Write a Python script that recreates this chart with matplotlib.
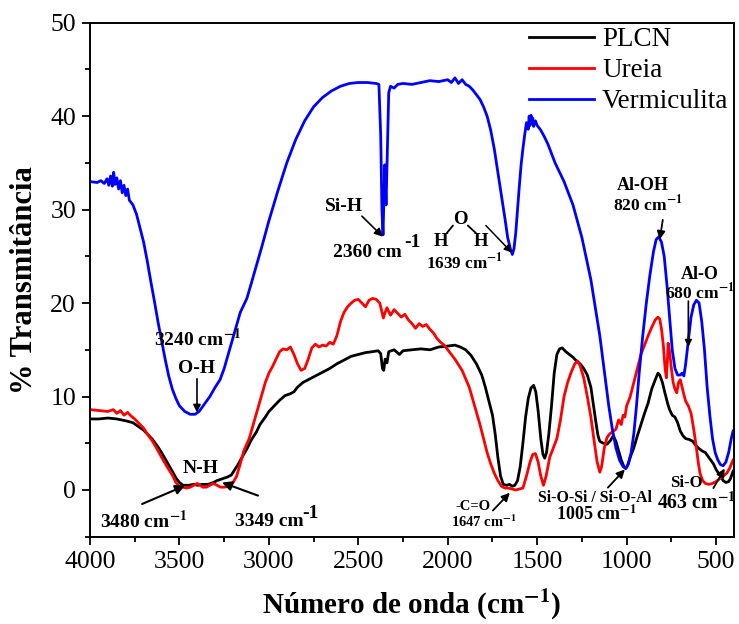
import matplotlib
matplotlib.use('Agg')
import matplotlib.pyplot as plt
from matplotlib.ticker import MultipleLocator

plt.rcParams['font.family'] = ['Liberation Serif', 'DejaVu Serif']
plt.rcParams['mathtext.fontset'] = 'stix'

# PLCN (black)
plcn_x = [4000, 3950, 3900, 3850, 3800, 3760, 3730, 3700, 3680, 3650, 3620, 3600, 3570, 3540,
          3520, 3500, 3480, 3450, 3420, 3400, 3370, 3340, 3310, 3290, 3260, 3230, 3210, 3190,
          3170, 3150, 3120, 3100, 3070, 3050, 3020, 3000, 2970, 2940, 2910, 2880, 2860, 2840,
          2810, 2780, 2750, 2720, 2700, 2660, 2620, 2580, 2540, 2500, 2460, 2420, 2390, 2375,
          2365, 2358, 2350, 2340, 2330, 2300, 2270, 2250, 2200, 2150, 2100, 2050, 2000, 1960,
          1930, 1900, 1870, 1840, 1810, 1790, 1770, 1750, 1735, 1720, 1705, 1690, 1670, 1655,
          1640, 1625, 1610, 1595, 1580, 1565, 1550, 1535, 1520, 1508, 1495, 1480, 1468, 1458,
          1448, 1435, 1420, 1405, 1390, 1375, 1360, 1340, 1320, 1300, 1280, 1260, 1240, 1220,
          1200, 1185, 1170, 1160, 1150, 1130, 1110, 1090, 1075, 1060, 1045, 1030, 1015, 1005,
          995, 980, 960, 940, 920, 900, 880, 860, 840, 825, 815, 800, 785, 770, 760, 745, 730,
          715, 700, 685, 670, 650, 630, 615, 600, 580, 560, 545, 530, 515, 500, 490, 475, 460,
          445, 430, 420, 405]
plcn_y = [7.6, 7.6, 7.7, 7.6, 7.4, 7.2, 6.8, 6.4, 6.0, 5.4, 4.6, 4.0, 3.0, 2.0,
          1.3, 0.8, 0.5, 0.5, 0.6, 0.5, 0.6, 0.6, 0.8, 1.0, 1.2, 1.4, 1.6, 2.2,
          2.8, 3.5, 4.5, 5.3, 6.2, 7.0, 7.8, 8.4, 9.0, 9.6, 10.1, 10.3, 10.5, 11.0,
          11.5, 11.8, 12.1, 12.4, 12.6, 13.0, 13.5, 13.9, 14.3, 14.5, 14.7, 14.8, 14.9, 14.6,
          13.0, 12.8, 14.0, 13.6, 14.8, 15.0, 14.5, 14.9, 15.0, 15.1, 15.0, 15.3, 15.4, 15.5,
          15.3, 15.0, 14.4, 13.5, 12.3, 11.0, 9.5, 8.0, 6.0, 3.5, 1.5, 0.6, 0.5, 0.6,
          0.4, 0.5, 1.0, 2.5, 5.0, 7.8, 9.8, 10.9, 11.2, 10.5, 8.5, 5.5, 3.8, 3.4,
          4.0, 6.0, 9.0, 12.5, 14.5, 15.1, 15.2, 14.8, 14.5, 14.2, 13.8, 13.5, 13.0, 12.3,
          11.0, 9.0, 7.0, 5.8, 5.2, 5.0, 4.9, 5.3, 5.8, 5.2, 4.2, 3.2, 2.5, 2.3,
          2.6, 3.5, 4.5, 5.8, 7.0, 8.2, 9.3, 10.8, 11.8, 12.5, 12.3, 11.5, 10.3, 9.2, 8.6, 8.0, 7.8,
          7.2, 6.3, 5.8, 5.5, 5.4, 5.2, 4.8, 4.5, 4.2, 4.0, 3.6, 3.2, 2.8, 2.2, 1.9, 1.5, 1.0,
          0.8, 0.9, 1.2, 2.0]

# Ureia (red)
ureia_x = [4000, 3950, 3900, 3870, 3850, 3830, 3810, 3790, 3770, 3750, 3720, 3700, 3680, 3650,
           3620, 3600, 3570, 3540, 3520, 3500, 3480, 3460, 3440, 3420, 3400, 3385, 3370, 3350,
           3330, 3310, 3290, 3270, 3250, 3220, 3200, 3180, 3160, 3140, 3110, 3080, 3050, 3020,
           3000, 2980, 2960, 2940, 2920, 2900, 2880, 2860, 2840, 2820, 2800, 2780, 2760, 2740,
           2720, 2700, 2680, 2660, 2640, 2620, 2600, 2580, 2560, 2540, 2520, 2500, 2480, 2460,
           2440, 2420, 2400, 2380, 2370, 2360, 2350, 2340, 2320, 2300, 2280, 2260, 2240, 2220,
           2200, 2180, 2160, 2140, 2120, 2100, 2080, 2060, 2040, 2020, 2000, 1960, 1920, 1880,
           1850, 1820, 1800, 1780, 1760, 1740, 1720, 1700, 1680, 1660, 1640, 1620, 1600, 1580,
           1560, 1540, 1525, 1510, 1495, 1480, 1465, 1450, 1430, 1410, 1390, 1370, 1350, 1330,
           1310, 1290, 1275, 1260, 1240, 1220, 1200, 1180, 1165, 1150, 1140, 1125, 1110, 1095,
           1080, 1060, 1045, 1030, 1020, 1010, 1000, 980, 960, 940, 920, 900, 880, 860, 840,
           825, 815, 805, 795, 785, 778, 772, 768, 760, 750, 740, 730, 720, 710, 700, 690, 680,
           670, 655, 640, 625, 610, 600, 590, 575, 560, 540, 520, 500, 480, 460, 440, 425, 405]
ureia_y = [8.6, 8.5, 8.4, 8.6, 8.2, 8.5, 8.0, 8.3, 7.9, 7.6, 7.0, 6.6, 6.0, 5.2,
           4.2, 3.5, 2.5, 1.6, 0.8, 0.4, 0.3, 0.2, 0.3, 0.5, 0.7, 0.5, 0.3, 0.3,
           0.5, 0.7, 0.5, 0.3, 0.3, 0.4, 0.8, 1.5, 2.8, 4.2, 5.5, 7.5, 9.5, 11.5,
           12.5, 13.2, 14.0, 14.8, 15.1, 15.0, 15.3, 14.5, 13.5, 12.8, 13.0, 14.0, 15.2, 15.6,
           15.3, 15.5, 15.4, 15.8, 15.6, 16.5, 18.0, 19.0, 19.6, 20.0, 20.3, 20.4, 20.0, 19.6,
           20.3, 20.5, 20.4, 20.0, 19.2, 18.4, 19.0, 19.5, 18.7, 19.3, 18.9, 18.5, 18.8, 18.2,
           17.8, 17.3, 17.8, 17.5, 17.7, 17.2, 16.8, 16.2, 15.8, 15.5, 15.0, 14.0, 12.8, 11.0,
           9.0, 7.0, 5.5, 4.0, 2.8, 1.8, 1.0, 0.4, 0.2, 0.2, 0.1, 0.0, 0.1, 0.2,
           1.5, 3.0, 3.8, 3.9, 3.0, 1.5, 0.5, 1.5, 3.5, 4.5, 5.5, 7.5, 10.0, 11.5,
           12.6, 13.5, 13.8, 13.3, 12.0, 10.0, 7.8, 5.0, 3.0, 1.9, 2.5, 4.5, 5.6, 6.0,
           6.2, 6.5, 7.5, 7.0, 8.0, 7.8, 9.0, 10.0, 11.5, 13.0, 14.5, 15.5, 16.5, 17.4, 18.2,
           18.5, 18.3, 17.2, 15.5, 13.0, 12.0, 14.0, 15.7, 14.8, 13.0, 11.5, 10.8, 10.4, 11.5, 11.8, 11.0, 10.2,
           9.5, 9.0, 8.2, 6.5, 4.5, 3.0, 1.8, 1.0, 0.7, 0.6, 0.7, 0.9, 1.2, 1.5, 1.8, 2.3, 3.2]

# Vermiculita (blue)
verm_x = [4000, 3960, 3940, 3920, 3905, 3895, 3885, 3875, 3868, 3860, 3850, 3840, 3830, 3820,
          3810, 3800, 3790, 3780, 3760, 3740, 3720, 3700, 3680, 3660, 3640, 3620, 3600, 3580,
          3560, 3540, 3520, 3500, 3470, 3440, 3413, 3390, 3360, 3330, 3300, 3273, 3250, 3220,
          3190, 3160, 3123, 3100, 3070, 3040, 3000, 2950, 2900, 2850, 2800, 2750, 2700, 2650,
          2600, 2550, 2500, 2450, 2400, 2385, 2375, 2368, 2362, 2352, 2345, 2338, 2330, 2320,
          2300, 2280, 2250, 2200, 2150, 2100, 2050, 2000, 1980, 1960, 1940, 1920, 1900, 1880,
          1860, 1840, 1820, 1800, 1780, 1760, 1740, 1720, 1700, 1680, 1665, 1650, 1639, 1630,
          1620, 1610, 1600, 1590, 1580, 1570, 1560, 1550, 1545, 1540, 1535, 1530, 1525, 1520,
          1510, 1500, 1480, 1460, 1440, 1420, 1400, 1350, 1300, 1250, 1200, 1150, 1120, 1100,
          1080, 1060, 1040, 1020, 1005, 990, 975, 960, 945, 930, 910, 890, 870, 850, 835, 820,
          805, 790, 775, 760, 745, 730, 715, 700, 690, 680, 670, 655, 640, 625, 610, 595, 580,
          565, 550, 535, 520, 505, 490, 475, 460, 445, 430, 415, 405]
verm_y = [33.0, 32.9, 33.1, 32.8, 33.3, 32.6, 33.6, 32.5, 34.0, 32.7, 33.4, 32.2, 33.1, 31.8,
          32.6, 31.5, 32.2, 31.0, 30.5, 29.5, 28.0, 26.5, 24.5, 22.3, 20.2, 18.0, 16.0, 14.0,
          12.2, 10.8, 9.8, 9.0, 8.4, 8.1, 8.1, 8.4, 9.2, 10.0, 11.0, 11.8, 13.0, 15.0,
          17.0, 19.0, 20.5, 22.0, 24.0, 26.0, 28.8, 32.0, 35.0, 37.5, 39.5, 41.0, 42.0, 42.7,
          43.2, 43.5, 43.6, 43.6, 43.5, 43.4, 38.0, 30.0, 27.3, 34.8, 30.5, 36.0, 42.5, 43.2,
          43.0, 43.4, 43.5, 43.4, 43.6, 43.8, 43.7, 43.9, 43.6, 44.1, 43.5, 43.9, 43.4, 43.2,
          42.8, 42.3, 41.8, 41.0, 40.0, 38.5, 36.5, 34.0, 31.5, 29.0, 27.0, 25.8, 25.2, 25.8,
          27.5, 30.0, 32.5, 34.8, 36.5, 38.0, 39.3, 38.6, 40.0, 39.0, 40.1, 39.2, 39.8, 38.9,
          39.5, 39.0, 38.5, 37.8, 37.0, 36.0, 35.0, 33.0, 30.5, 27.0, 22.5, 16.5, 12.0, 9.0,
          6.5, 4.5, 3.2, 2.5, 2.3, 2.8, 4.0, 6.0, 9.0, 12.5, 16.5, 20.0, 23.0, 25.5, 26.8, 27.1,
          26.5, 25.0, 22.0, 18.5, 15.0, 13.0, 12.3, 12.3, 12.5, 12.2, 13.5, 16.0, 18.5, 19.8, 20.3, 20.0, 18.0,
          15.0, 11.0, 8.0, 5.5, 4.0, 3.2, 2.7, 2.6, 3.0, 4.0, 5.5, 6.3]

fig = plt.figure(figsize=(7.39, 6.24), dpi=100)
ax = fig.add_axes([0.1218, 0.1399, 0.8714, 0.8237])

ax.plot(plcn_x, plcn_y, color='black', lw=2.0, label='PLCN')
ax.plot(ureia_x, ureia_y, color='red', lw=2.0, label='Ureia')
ax.plot(verm_x, verm_y, color='blue', lw=2.0, label='Vermiculita')

ax.set_xlim(4000, 400)
ax.set_ylim(-5, 50)
ax.xaxis.set_major_locator(MultipleLocator(500))
ax.xaxis.set_minor_locator(MultipleLocator(250))
ax.yaxis.set_major_locator(MultipleLocator(10))
ax.yaxis.set_minor_locator(MultipleLocator(5))
ax.tick_params(which='both', labelsize=18.5, width=1.3)
ax.tick_params(which='major', direction='out', length=6, pad=4)
ax.tick_params(which='minor', direction='out', length=3.5)
for s in ax.spines.values():
    s.set_linewidth(1.4)
ax.set_yticks([0, 10, 20, 30, 40, 50])

ax.set_xlabel(r'Número de onda (cm$^{\mathbf{-1}}$)', fontsize=21, fontweight='bold', labelpad=11)
ax.set_ylabel('% Transmitância', fontsize=22, fontweight='bold', labelpad=8)

leg = ax.legend(loc='upper right', frameon=False, fontsize=19.5, handlelength=2.4,
                labelspacing=0.22, handletextpad=0.3, borderaxespad=0.0,
                bbox_to_anchor=(1.008, 1.012))

sup = r'$^{\mathbf{-1}}$'
bold = dict(fontweight='bold', ha='center', va='center')
arrow = dict(arrowstyle='-|>', color='black', lw=1.5, mutation_scale=14, shrinkA=0, shrinkB=0)

ax.text(3396, 16.2, '3240 cm' + sup, fontsize=14, **bold)
ax.text(3402, 13.0, 'O-H', fontsize=14, **bold)
ax.annotate('', xy=(3402, 8.3), xytext=(3402, 11.9), arrowprops=dict(arrow, lw=1.2, mutation_scale=11))

ax.text(3380, 2.3, 'N-H', fontsize=14, **bold)
ax.annotate('', xy=(3469, 0.46), xytext=(3709, -1.5), arrowprops=arrow)
ax.text(3698, -3.3, '3480 cm' + sup, fontsize=14, **bold)
ax.annotate('', xy=(3262, 0.8), xytext=(3061, -0.6), arrowprops=arrow)
ax.text(3000, -3.4, '3349 cm', fontsize=14, **bold)
ax.text(2770, -2.5, '-1', fontsize=14, **bold)

ax.text(2581, 30.3, 'Si-H', fontsize=14, **bold)
ax.annotate('', xy=(2363, 27.1), xytext=(2480, 29.3), arrowprops=dict(arrow, lw=1.2, mutation_scale=12))
ax.text(2452, 25.4, '2360 cm', fontsize=14, **bold)
ax.text(2200, 26.5, '-1', fontsize=14, **bold)

ax.text(1927, 28.9, 'O', fontsize=13.5, **bold)
ax.text(2038, 26.6, 'H', fontsize=13.5, **bold)
ax.text(1815, 26.6, 'H', fontsize=13.5, **bold)
ax.annotate('', xy=(1971, 28.3), xytext=(2005, 27.5), arrowprops=dict(arrowstyle='-', lw=1.3, shrinkA=0, shrinkB=0))
ax.annotate('', xy=(1843, 27.5), xytext=(1888, 28.3), arrowprops=dict(arrowstyle='-', lw=1.3, shrinkA=0, shrinkB=0))
ax.annotate('', xy=(1642, 25.4), xytext=(1787, 28.3), arrowprops=dict(arrow, lw=1.1, mutation_scale=11))
ax.text(1904, 24.4, '1639 cm' + sup, fontsize=12.3, **bold)

ax.text(909, 32.6, 'Al-OH', fontsize=13, **bold)
ax.text(882, 30.6, '820 cm' + sup, fontsize=12.6, **bold)
ax.annotate('', xy=(815, 26.8), xytext=(798, 28.9), arrowprops=dict(arrow, lw=1.3, mutation_scale=12))

ax.text(594, 23.1, 'Al-O', fontsize=13, **bold)
ax.text(588, 21.1, '680 cm' + sup, fontsize=12.6, **bold)
ax.annotate('', xy=(655, 15.3), xytext=(655, 20.2), arrowprops=dict(arrow, lw=1.2, mutation_scale=10))

ax.text(1860, -1.8, '-C=O', fontsize=10.5, **bold)
ax.text(1798, -3.4, '1647 cm' + sup, fontsize=10.5, **bold)
ax.annotate('', xy=(1653, -0.3), xytext=(1748, -2.2), arrowprops=dict(arrow, lw=1.3, mutation_scale=12))

ax.text(1178, -0.9, 'Si-O-Si / Si-O-Al', fontsize=11.4, **bold)
ax.text(1167, -2.6, '1005 cm' + sup, fontsize=13, **bold)
ax.annotate('', xy=(1010, 2.2), xytext=(1105, 0.25), arrowprops=dict(arrow, lw=1.3, mutation_scale=12))

ax.text(664, 0.7, 'Si-O', fontsize=12, **bold)
ax.text(608, -1.4, '463 cm' + sup, fontsize=14.3, **bold)
ax.annotate('', xy=(452, 2.3), xytext=(515, 0.2), arrowprops=dict(arrow, lw=1.3, mutation_scale=12))

fig.savefig('out.png', dpi=100)
